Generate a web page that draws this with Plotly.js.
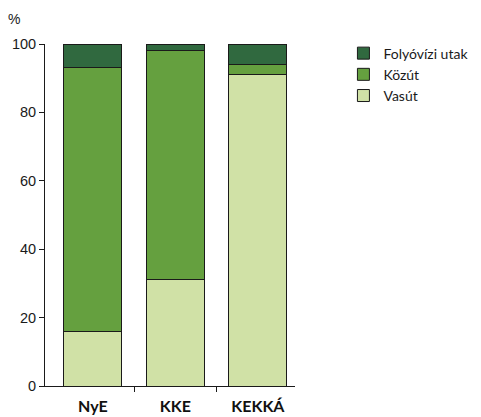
<!DOCTYPE html>
<html><head><meta charset="utf-8">
<script src="https://cdn.plot.ly/plotly-3.0.1.min.js"></script>
<style>body{margin:0;background:#fff}#c{width:481px;height:417px}</style>
</head><body><div id="c"></div>
<script>
const categories = ["NyE", "KKE", "KEKKÁ"];
const vasut = [16, 31, 91];
const kozut = [77, 67, 3];
const folyo = [7, 2, 6];
const seriesNames = ["Vasút", "Közút", "Folyóvízi utak"];
const yTicks = [0, 20, 40, 60, 80, 100];
const boundaryTicks = [0.5, 1.5, 2.44];

const colors = ["#d0e1a6", "#65a03f", "#30693f"];
const vals = [vasut, kozut, folyo];
const traces = vals.map((v, i) => ({
  type: "bar", x: categories, y: v, name: seriesNames[i],
  width: 0.7,
  marker: {color: colors[i], line: {color: "#1a1a1a", width: 1}},
  hoverinfo: "skip"
}));
traces.push({type: "scatter", x: [0], y: [0], xaxis: "x2", yaxis: "y", mode: "markers",
  marker: {opacity: 0}, showlegend: false, hoverinfo: "skip"});

const xr = [-0.58, 2.45];
const layout = {
  width: 481, height: 417,
  margin: {l: 45, r: 186, t: 44, b: 31},
  barmode: "stack",
  paper_bgcolor: "#fff", plot_bgcolor: "#fff",
  font: {family: "Liberation Sans, Arial, sans-serif", size: 14, color: "#1a1a1a"},
  xaxis: {type: "category", range: xr, showline: true, linecolor: "#1a1a1a", linewidth: 1,
    ticks: "outside", ticklen: 6, tickcolor: "rgba(0,0,0,0)", showgrid: false, zeroline: false,
    tickfont: {family: "Lato, Liberation Sans, sans-serif", size: 16, color: "#111", weight: "bold"}},
  xaxis2: {overlaying: "x", anchor: "free", position: 0, type: "linear", range: xr,
    tickmode: "array", tickvals: boundaryTicks,
    ticks: "inside", ticklen: 5, tickwidth: 1, tickcolor: "#1a1a1a", showticklabels: false,
    showgrid: false, zeroline: false, showline: false, side: "top"},
  yaxis: {range: [0, 100], tickvals: yTicks, showline: true, linecolor: "#1a1a1a", linewidth: 1,
    ticks: "outside", ticklen: 5, tickcolor: "#1a1a1a", showgrid: false, zeroline: false,
    tickfont: {size: 14.5, color: "#1a1a1a"}},
  legend: {xref: "container", yref: "container", x: 0.714, y: 0.91, xanchor: "left", yanchor: "top",
    font: {family: "Lato, Liberation Sans, sans-serif", size: 14, color: "#1a1a1a"},
    tracegroupgap: 0, itemwidth: 30},
  annotations: [{text: "%", xref: "paper", yref: "paper", x: -0.125, y: 1.045, xanchor: "center", yanchor: "bottom",
    showarrow: false, font: {size: 14, color: "#1a1a1a"}}],
  showlegend: true
};
Plotly.newPlot("c", traces, layout, {staticPlot: true});
</script></body></html>
